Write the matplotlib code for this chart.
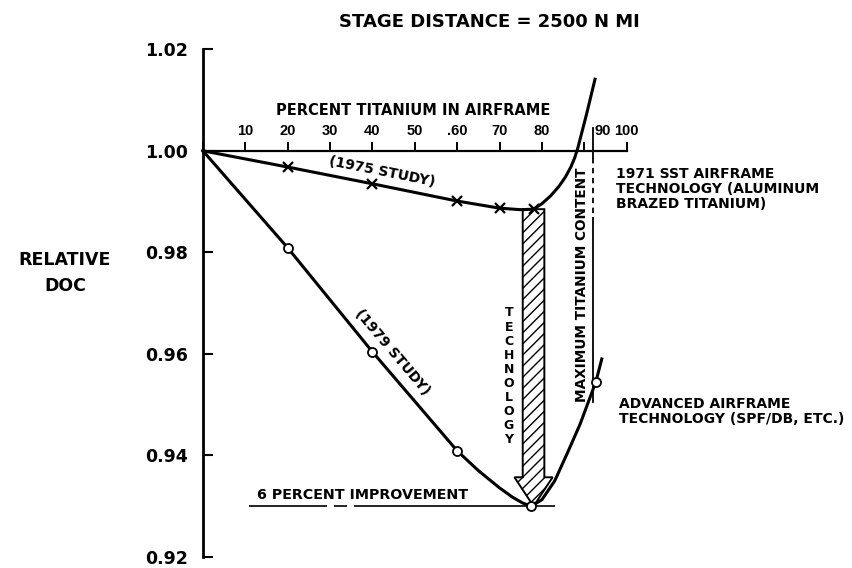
import matplotlib
matplotlib.use("Agg")
import matplotlib.pyplot as plt
from matplotlib.patches import Polygon
from matplotlib.transforms import ScaledTranslation

FONT = "DejaVu Sans"
plt.rcParams["font.family"] = FONT
plt.rcParams["hatch.linewidth"] = 1.0

# Relative DOC versus percent titanium in the airframe
pct_1975 = [0, 20, 40, 60, 70, 75, 78, 80, 82, 84, 85.5, 86.8, 87.7, 88.4,
            90.5, 92.5]
doc_1975 = [1.0, 0.9968, 0.9935, 0.9901, 0.9887, 0.9884, 0.9885, 0.9896,
            0.9911, 0.9930, 0.9948, 0.9968, 0.9986, 1.0004, 1.0072, 1.0141]
mark_pct_1975 = [20, 40, 60, 70, 78]
mark_doc_1975 = [0.9968, 0.9935, 0.9901, 0.9887, 0.9885]

pct_1979 = [0, 20, 40, 60, 65, 70, 73, 75.5, 77.5, 80, 83, 86, 89, 92.7, 94.1]
doc_1979 = [1.0, 0.9809, 0.9604, 0.9409, 0.9370, 0.9336, 0.9318, 0.9306,
            0.9300, 0.9313, 0.9350, 0.9405, 0.9462, 0.9545, 0.9590]
mark_pct_1979 = [20, 40, 60, 77.5, 92.7]
mark_doc_1979 = [0.9809, 0.9604, 0.9409, 0.9300, 0.9545]

# Technology step: from the 1975 optimum down to the 1979 optimum
tech_pct = 78.0
tech_from = 0.9885
tech_to = 0.9300

# Maximum titanium content limit
max_ti_pct = 92.0
max_ti_top = 1.0045
max_ti_bottom = 0.9505

pct_ticks = [0, 10, 20, 30, 40, 50, 60, 70, 80, 90, 100]
pct_labels = ["", "10", "20", "30", "40", "50", ".60", "70", "80", "90", "100"]
doc_ticks = [0.92, 0.94, 0.96, 0.98, 1.00, 1.02]
doc_labels = ["0.92", "0.94", "0.96", "0.98", "1.00", "1.02"]

W, H = 852, 568
fig = plt.figure(figsize=(W / 100, H / 100), dpi=100)
ax = fig.add_axes([0, 0, 1, 1])
ax.set_xlim(-47.85, 153.12)
ax.set_ylim(0.91783, 1.02970)
ax.patch.set_visible(False)


def fx(xp):
    return xp / W


def fy(yp):
    return 1 - yp / H


# axes: vertical DOC scale and horizontal titanium scale along DOC = 1.00
for s in ("right", "bottom"):
    ax.spines[s].set_visible(False)
ax.spines["left"].set_position(("data", 0))
ax.spines["left"].set_bounds(0.92, 1.02)
ax.spines["left"].set_linewidth(2.0)
ax.spines["top"].set_position(("data", 1.0))
ax.spines["top"].set_bounds(0, 100)
ax.spines["top"].set_linewidth(1.6)

ax.xaxis.set_ticks_position("top")
ax.set_xticks(pct_ticks)
ax.set_xticklabels(pct_labels)
ax.tick_params(axis="x", direction="out", length=6.5, width=1.4, pad=2.7,
               labelsize=10.5)
for lab in ax.get_xticklabels():
    lab.set_fontweight("bold")
    lab.set_fontfamily("Liberation Sans")

ax.set_yticks(doc_ticks)
ax.set_yticklabels(doc_labels)
ax.tick_params(axis="y", direction="in", length=7.5, width=1.5, pad=10.5,
               labelsize=12.5)
for lab in ax.get_yticklabels():
    lab.set_fontweight("bold")

# the "90" label sits just right of the maximum-content line
for tick in ax.xaxis.get_major_ticks():
    if tick.label2.get_text() == "90":
        tick.label2.set_horizontalalignment("left")
        tick.label2.set_transform(
            tick.label2.get_transform()
            + ScaledTranslation(7 / 72, 0, fig.dpi_scale_trans))

# 6 percent improvement reference line
for x0, x1 in [(11.0, 29.2), (31.0, 33.9), (35.7, 83.1)]:
    ax.plot([x0, x1], [tech_to, tech_to], color="black", lw=1.2, zorder=2,
            solid_capstyle="butt")

# hatched technology arrow
sw, hw, hl = 2.55, 4.5, 0.0057
verts = [
    (tech_pct - sw, tech_from), (tech_pct + sw, tech_from),
    (tech_pct + sw, tech_to + hl), (tech_pct + hw, tech_to + hl),
    (tech_pct, tech_to), (tech_pct - hw, tech_to + hl),
    (tech_pct - sw, tech_to + hl),
]
ax.add_patch(Polygon(verts, closed=True, facecolor="white", edgecolor="black",
                     hatch="///", lw=1.4, zorder=3))

# maximum titanium content line (broken near the top)
ax.plot([max_ti_pct, max_ti_pct], [max_ti_top, 0.9985], color="black", lw=1.3,
        zorder=2)
ax.plot([max_ti_pct, max_ti_pct], [0.9985, 0.9868], color="black", lw=1.3,
        ls=(0, (3, 2.5)), zorder=2)
ax.plot([max_ti_pct, max_ti_pct], [0.9868, max_ti_bottom], color="black",
        lw=1.3, zorder=2)

# study curves
ax.plot(pct_1975, doc_1975, color="black", lw=2.2, zorder=4,
        solid_joinstyle="round")
ax.plot(mark_pct_1975, mark_doc_1975, ls="none", marker="x", ms=7, mew=1.6,
        color="black", zorder=5)
ax.plot(pct_1979, doc_1979, color="black", lw=2.2, zorder=4,
        solid_joinstyle="round")
ax.plot(mark_pct_1979, mark_doc_1979, ls="none", marker="o", ms=6.5, mew=1.3,
        mfc="white", mec="black", zorder=5)

# labels
bold = dict(fontweight="bold", color="black")
fig.text(fx(489), fy(27), "STAGE DISTANCE = 2500 N MI", ha="center",
         va="baseline", fontsize=13, **bold)
fig.text(fx(413), fy(115), "PERCENT TITANIUM IN AIRFRAME", ha="center",
         va="baseline", fontsize=10.5, **bold)
fig.text(fx(65), fy(265), "RELATIVE", ha="center", va="baseline",
         fontsize=12.5, **bold)
fig.text(fx(65), fy(291), "DOC", ha="center", va="baseline",
         fontsize=12.5, **bold)

for i, line in enumerate(["1971 SST AIRFRAME", "TECHNOLOGY (ALUMINUM",
                          "BRAZED TITANIUM)"]):
    fig.text(fx(616), fy(178 + 15 * i), line, ha="left", va="baseline",
             fontsize=10, **bold)
for i, line in enumerate(["ADVANCED AIRFRAME", "TECHNOLOGY (SPF/DB, ETC.)"]):
    fig.text(fx(619), fy(408 + 15 * i), line, ha="left", va="baseline",
             fontsize=10, **bold)

fig.text(fx(581.5), fy(284.5), "MAXIMUM TITANIUM CONTENT", rotation=90,
         ha="center", va="center", fontsize=9.8, **bold)

for i, ch in enumerate("TECHNOLOGY"):
    fig.text(fx(509), fy(316.5 + 14.1 * i), ch, ha="center", va="baseline",
             fontsize=9, **bold)

fig.text(fx(257), fy(499), "6 PERCENT IMPROVEMENT", ha="left", va="baseline",
         fontsize=10.3, **bold)

fig.text(fx(382), fy(172), "(1975 STUDY)", rotation=-11.3,
         rotation_mode="anchor", ha="center", va="center", fontsize=10, **bold)
fig.text(fx(392), fy(352), "(1979 STUDY)", rotation=-49.7,
         rotation_mode="anchor", ha="center", va="center", fontsize=10, **bold)

fig.savefig("out.png", dpi=100)
